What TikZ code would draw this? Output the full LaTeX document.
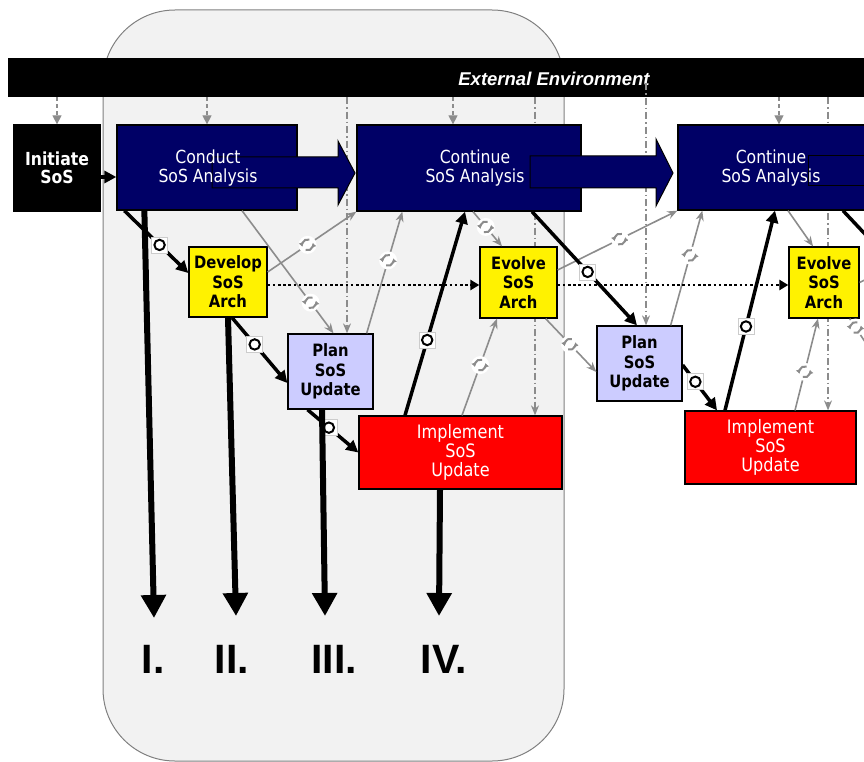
\documentclass[tikz,border=0pt]{standalone}
\usepackage{fontspec}
\setmainfont{DejaVu Sans}[FakeStretch=0.87]
\newfontfamily\arialfont{Liberation Sans}
\usetikzlibrary{arrows.meta, backgrounds}
\definecolor{sosnavy}{RGB}{0,0,102}
\definecolor{soslav}{RGB}{204,204,255}
\definecolor{linkgray}{RGB}{140,140,140}
\definecolor{panelgray}{RGB}{242,242,242}
\tikzset{
  boxbase/.style={draw=black, line width=1.3pt, inner sep=0pt, align=center},
  anabox/.style={boxbase, fill=sosnavy},
  anatext/.style={text=white, align=center, inner sep=0pt, font=\fontsize{18}{18.5}\selectfont},
  initbox/.style={boxbase, fill=black, text=white, font=\fontsize{18}{18.5}\selectfont\bfseries},
  archbox/.style={boxbase, fill=yellow, font=\fontsize{17}{19.5}\selectfont\bfseries},
  planbox/.style={boxbase, fill=soslav, font=\fontsize{17}{19.5}\selectfont\bfseries},
  implbox/.style={boxbase, fill=red, text=white, font=\fontsize{18.5}{19}\selectfont},
  blockarrow/.style={fill=sosnavy, draw=black, line width=1pt},
  flow/.style={line width=3.5pt, -{Triangle[length=12pt,width=12pt]}},
  bigflow/.style={line width=6pt, -{Triangle[length=23pt,width=24pt]}},
  gflow/.style={linkgray, line width=1.6pt, -{Stealth[length=10pt,width=8pt]}},
  envarrow/.style={linkgray, line width=1.3pt, dash pattern=on 4pt off 3pt, -{Triangle[length=9pt,width=9pt]}},
  envlink/.style={linkgray, line width=1.2pt, dash pattern=on 7pt off 3pt on 1.5pt off 3pt, -{Stealth[length=10pt,width=8pt]}},
  dotflow/.style={line width=2.6pt, dash pattern=on 2.6pt off 2.6pt, -{Triangle[length=9pt,width=10pt]}},
  holdmark/.style={rectangle, fill=white, draw=black!20, line width=0.6pt, minimum width=16pt, minimum height=16pt, inner sep=0pt,
    path picture={\draw[black, line width=2pt] (path picture bounding box.center) circle[radius=5.2pt];}},
  syncmark/.style={circle, fill=white, minimum width=18pt, minimum height=18pt, inner sep=0pt,
    path picture={
      \draw[linkgray, line width=2pt, -{Triangle[length=3.5pt,width=5pt]}]
        ([shift={(70:5.5pt)}]path picture bounding box.center) arc[start angle=70, end angle=195, radius=5.5pt];
      \draw[linkgray, line width=2pt, -{Triangle[length=3.5pt,width=5pt]}]
        ([shift={(250:5.5pt)}]path picture bounding box.center) arc[start angle=250, end angle=375, radius=5.5pt];}},
  numlabel/.style={anchor=base, inner sep=0pt, font=\arialfont\bfseries\fontsize{41}{41}\selectfont}
}

\begin{document}
\begin{tikzpicture}[x=1pt, y=-1pt]
\useasboundingbox (0,0) rectangle (864,762);

% boxes
\node[initbox, minimum width=86pt, minimum height=86pt] (init) at (57,168) {Initiate\\SoS};
\node[anabox, minimum width=180pt, minimum height=85pt] (ca) at (207,167.5) {};
\node[anabox, minimum width=224pt, minimum height=86pt] (co1) at (469,168) {};
\node[anabox, minimum width=188pt, minimum height=85pt] (co2) at (772,167.5) {};
\node[archbox, minimum width=78pt, minimum height=70pt] (dev) at (228,282) {Develop\\SoS\\Arch};
\node[archbox, minimum width=77pt, minimum height=71pt] (ev1) at (518.5,282.5) {Evolve\\SoS\\Arch};
\node[archbox, minimum width=70pt, minimum height=71pt] (ev2) at (824,282.5) {Evolve\\SoS\\Arch};
\node[planbox, minimum width=85pt, minimum height=75pt] (pl1) at (330.5,371.5) {Plan\\SoS\\Update};
\node[planbox, minimum width=85pt, minimum height=75pt] (pl2) at (639.5,363.5) {Plan\\SoS\\Update};
\node[implbox, minimum width=203pt, minimum height=73pt] (im1) at (460.5,452.5) {Implement\\SoS\\Update};
\node[implbox, minimum width=171pt, minimum height=73pt] (im2) at (770.5,447.5) {Implement\\SoS\\Update};

% environment bar and its links, behind everything
\begin{scope}[on background layer]
\draw[fill=panelgray, draw=black!50, line width=1pt, rounded corners=72pt] (103,10) rectangle (564,761);
\node[fill=black, minimum width=862pt, minimum height=39pt, inner sep=0pt] (env) at (439,77.5) {};
\node[anchor=base, text=white, inner sep=0pt, font=\arialfont\bfseries\itshape\fontsize{18.5}{18.5}\selectfont] (envlabel) at (554,86) {External Environment};
\draw[envarrow] (init.north |- env.south) -- (init.north);
\draw[envarrow] (ca.north |- env.south) -- (ca.north);
\draw[envarrow] ([shift={(-16,0)}]co1.north |- env.south) -- ([shift={(-16,0)}]co1.north);
\draw[envarrow] ([shift={(7,0)}]co2.north |- env.south) -- ([shift={(7,0)}]co2.north);
\draw[envlink] ([shift={(16.5,0)}]pl1.north |- env.south) -- ([shift={(16.5,0)}]pl1.north);
\draw[envlink] ([shift={(74.5,0)}]im1.north |- env.south) -- ([shift={(74.5,0)}]im1.north);
\draw[envlink] ([shift={(6.5,-14)}]pl2.north |- env.south) -- ([shift={(6.5,0)}]pl2.north);
\draw[envlink] ([shift={(57.5,0)}]im2.north |- env.south) -- ([shift={(57.5,0)}]im2.north);
\end{scope}

% block arrows between the analysis boxes
\draw[blockarrow] (212,157) -- (338,157) -- (338,141) -- (355,173) -- (338,205) -- (338,188) -- (212,188) -- cycle;
\draw[blockarrow] (530,156) -- (656,156) -- (656,139) -- (673,173) -- (656,206) -- (656,188) -- (530,188) -- cycle;
\draw[blockarrow] (808,156) -- (900,156) -- (900,186) -- (808,186) -- cycle;
\node[anatext] (catext) at (208,168) {Conduct\\SoS Analysis};
\node[anatext] (co1text) at (475,168) {Continue\\SoS Analysis};
\node[anatext] (co2text) at (771,168) {Continue\\SoS Analysis};

% gray feedback links
\draw[gflow] ([shift={(35,0)}]ca.south) -- node[syncmark, pos=0.75] (s1) {} ([shift={(3,0)}]pl1.north);
\draw[gflow] ([shift={(0,-10)}]dev.east) -- node[syncmark, pos=0.45] (s2) {} (co1.south west);
\draw[gflow] ([shift={(-7,0)}]pl1.north east) -- node[syncmark, pos=0.6] (s3) {} ([shift={(46,0)}]co1.south west);
\draw[gflow] ([shift={(4,0)}]co1.south) -- node[syncmark, pos=0.44] (s4) {} ([shift={(-16.5,0)}]ev1.north);
\draw[gflow] ([shift={(0,-12.5)}]ev1.east) -- node[syncmark, pos=0.52] (s5) {} (co2.south west);
\draw[gflow] ([shift={(1.5,0)}]im1.north) -- node[syncmark, pos=0.52] (s6) {} ([shift={(-21.5,0)}]ev1.south);
\draw[gflow] ([shift={(-12,0)}]ev1.south east) -- node[syncmark, pos=0.48] (s7) {} ([shift={(0,8.5)}]pl2.west);
\draw[gflow] ([shift={(-12,0)}]pl2.north east) -- node[syncmark, pos=0.61] (s8) {} ([shift={(25,0)}]co2.south west);
\draw[gflow] ([shift={(16,0)}]co2.south) -- ([shift={(-11,0)}]ev2.north);
\draw[gflow] ([shift={(24.5,0)}]im2.north) -- node[syncmark, pos=0.42] (s9) {} ([shift={(-6,0)}]ev2.south);
\coordinate (offup) at (900,262);
\coordinate (offdown) at (889,378);
\draw[gflow] (ev2.east) -- (offup);
\draw[gflow] ([shift={(-10,0)}]ev2.south east) -- node[syncmark, pos=0.15] (s10) {} (offdown);

% dotted architecture thread
\draw[dotflow] ([shift={(0,3)}]dev.east) -- ([shift={(0,2.5)}]ev1.west);
\draw[dotflow] ([shift={(0,2.5)}]ev1.east) -- ([shift={(0,2.5)}]ev2.west);

% main black flow
\draw[flow] ([shift={(0,9)}]init.east) -- ([shift={(0,9.5)}]ca.west);
\draw[flow] ([shift={(8,0)}]ca.south west) -- node[holdmark, pos=0.55] (h1) {} ([shift={(0,-9)}]dev.west);
\draw[flow] ([shift={(4,0)}]dev.south) -- node[holdmark, pos=0.41] (h2) {} ([shift={(0,11.5)}]pl1.west);
\draw[flow] ([shift={(-23,0)}]pl1.south) -- node[holdmark, pos=0.42] (h3) {} (im1.west);
\draw[flow] ([shift={(-55.5,0)}]im1.north) -- node[holdmark, pos=0.37] (h4) {} ([shift={(-4,0)}]co1.south);
\draw[flow] ([shift={(63,0)}]co1.south) -- node[holdmark, pos=0.53] (h5) {} ([shift={(-2.5,0)}]pl2.north);
\draw[flow] ([shift={(0,1.5)}]pl2.east) -- node[holdmark, pos=0.37] (h6) {} ([shift={(-53.5,0)}]im2.north);
\draw[flow] ([shift={(-45.5,0)}]im2.north) -- node[holdmark, pos=0.42] (h7) {} ([shift={(3,0)}]co2.south);
\coordinate (offflow) at (880,250);
\draw[line width=3.5pt] ([shift={(71,0)}]co2.south) -- (offflow);

% the four outputs
\coordinate (tI) at (154,618);
\coordinate (tII) at (236,616);
\coordinate (tIII) at (325,616);
\coordinate (tIV) at (439,616);
\draw[bigflow] ([shift={(28,0)}]ca.south west) -- (tI);
\draw[bigflow] (dev.south) -- (tII);
\draw[bigflow] ([shift={(-8.5,0)}]pl1.south) -- (tIII);
\draw[bigflow] ([shift={(-20.5,0)}]im1.south) -- (tIV);
\node[numlabel] (lI) at (153,673) {I.};
\node[numlabel] (lII) at (232,673) {II.};
\node[numlabel] (lIII) at (334,673) {III.};
\node[numlabel] (lIV) at (444,673) {IV.};
\end{tikzpicture}
\end{document}
